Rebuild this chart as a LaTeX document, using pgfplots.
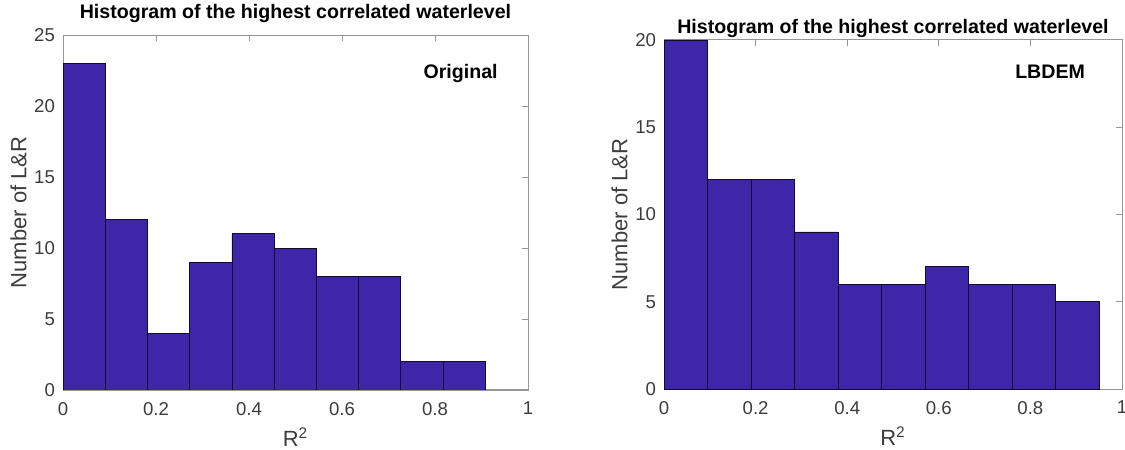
\documentclass[border=0pt]{standalone}
\usepackage{pgfplots}
\pgfplotsset{compat=1.18}
\usepackage{fontspec}
\setmainfont{Liberation Sans}
\definecolor{barblue}{RGB}{62,38,168}
\definecolor{axgray}{RGB}{150,150,150}
\definecolor{txtgray}{RGB}{60,60,60}

\pgfplotsset{
  histaxis/.style={
    scale only axis,
    axis line style={axgray, line width=0.5pt},
    every tick/.style={axgray, line width=0.5pt},
    tick align=inside,
    major tick length=3pt,
    xmin=0, xmax=1,
    ymin=0,
    xtick={0,0.2,0.4,0.6,0.8,1},
    xticklabels={0,0.2,0.4,0.6,0.8,1},
    /pgf/number format/assume math mode=true,
    ticklabel style={font=\fontsize{9.3}{10}\selectfont, text=txtgray},
    xticklabel style={yshift=-2.5pt},
    yticklabel style={xshift=-0.5pt},
    title={Histogram of the highest correlated waterlevel},
    xlabel={R\textsuperscript{2}},
    ylabel={Number of L\&R},
    label style={font=\fontsize{11}{12}\selectfont, text=txtgray},
    xlabel style={yshift=0.5pt},
    ylabel style={yshift=-3pt},
  },
  histbars/.style={ybar interval, fill=barblue, draw=black!70!barblue, line width=0.35pt},
}

\begin{document}
\begin{tikzpicture}
\path[use as bounding box] (0,0) rectangle (562.5pt,225pt);

% Original DEM
\begin{axis}[histaxis,
  at={(31.5pt,30pt)}, anchor=south west,
  width=232.5pt, height=177.5pt,
  title style={font=\bfseries\fontsize{9.8}{11}\selectfont, yshift=-3.5pt},
  ymax=25, ytick={0,5,10,15,20,25}]
\addplot[histbars] coordinates {
  (0.0000,23) (0.0908,12) (0.1816,4) (0.2724,9) (0.3632,11)
  (0.4540,10) (0.5448,8) (0.6356,8) (0.7264,2) (0.8172,2)
  (0.9080,2)};
\node[font=\bfseries\fontsize{9.8}{11}\selectfont] at (axis cs:0.855,22.3) {Original};
\end{axis}

% LBDEM
\begin{axis}[histaxis,
  at={(332pt,30.5pt)}, anchor=south west,
  width=229pt, height=174.5pt,
  title style={font=\bfseries\fontsize{9.8}{11}\selectfont, yshift=-8.5pt},
  ymax=20, ytick={0,5,10,15,20}]
\addplot[histbars] coordinates {
  (0.000,20) (0.095,12) (0.190,12) (0.285,9) (0.380,6)
  (0.475,6) (0.570,7) (0.665,6) (0.760,6) (0.855,5)
  (0.950,5)};
\node[font=\bfseries\fontsize{9.8}{11}\selectfont] at (axis cs:0.843,18.2) {LBDEM};
\end{axis}
\end{tikzpicture}
\end{document}
